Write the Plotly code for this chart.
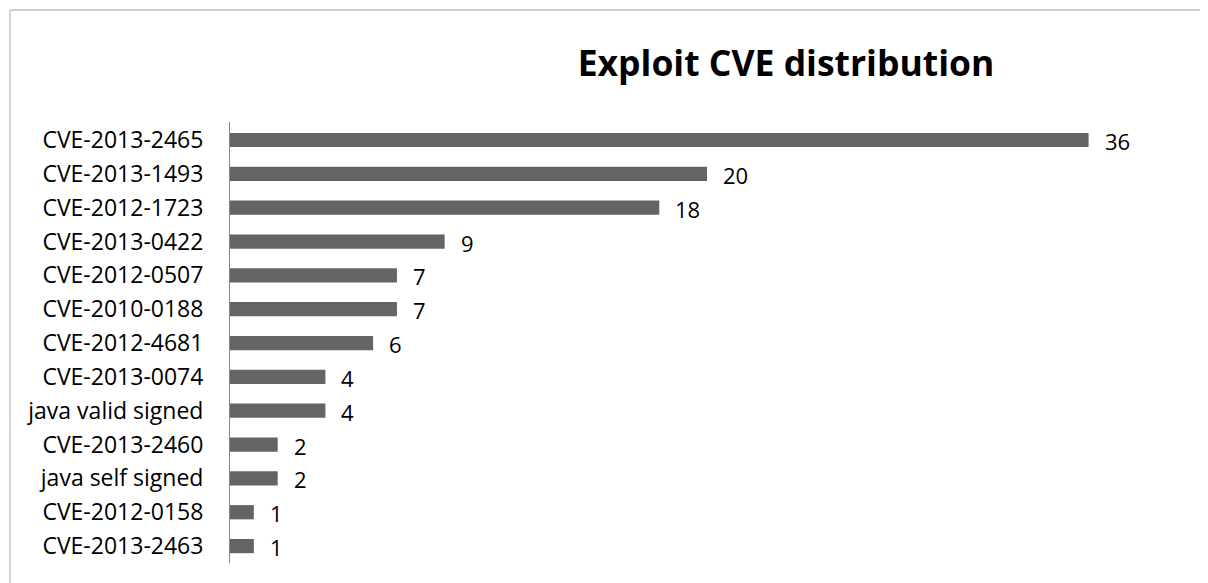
import plotly.graph_objects as go

categories = ["CVE-2013-2465", "CVE-2013-1493", "CVE-2012-1723", "CVE-2013-0422",
              "CVE-2012-0507", "CVE-2010-0188", "CVE-2012-4681", "CVE-2013-0074",
              "java valid signed", "CVE-2013-2460", "java self signed", "CVE-2012-0158",
              "CVE-2013-2463"]
counts = [36, 20, 18, 9, 7, 7, 6, 4, 4, 2, 2, 1, 1]
title_text = "Exploit CVE distribution"

# page has an 8px body margin; figure sized to fit inside the window
OFF = 8
W, H = 1208 - 2 * OFF, 583 - OFF
L, T = 230 - OFF, 122 - OFF
pw, ph = 954, 441
R, B = W - L - pw, H - T - ph

fig = go.Figure(go.Bar(
    x=counts, y=categories, orientation="h",
    marker=dict(color="#646464", line=dict(width=0)),
    width=0.42, hoverinfo="x+y",
))

for c, v in zip(categories, counts):
    fig.add_annotation(x=v, y=c, xref="x", yref="y", text=str(v), showarrow=False,
                       xanchor="left", yanchor="middle", xshift=14, yshift=-1,
                       font=dict(family="Open Sans", size=22, color="#000000"))

# chart border: only the top and left edges fall inside the window
bx0 = (10 - OFF - L) / pw
by1 = 1 + (T - (10 - OFF)) / ph
bx1 = (W - L) / pw
by0 = -B / ph
border = dict(color="#bfbfbf", width=1.3)
fig.add_shape(type="line", xref="paper", yref="paper", x0=bx0, x1=bx1, y0=by1, y1=by1,
              line=border, layer="below")
fig.add_shape(type="line", xref="paper", yref="paper", x0=bx0, x1=bx0, y0=by0, y1=by1,
              line=border, layer="below")

fig.update_layout(
    width=W, height=H,
    margin=dict(l=L, r=R, t=T, b=B, pad=0),
    paper_bgcolor="white", plot_bgcolor="white",
    showlegend=False,
    title=dict(text="<b>" + title_text + "</b>", x=(786 - OFF) / W, xanchor="center",
               y=1 - (64 - OFF) / H, yanchor="middle",
               font=dict(family="Open Sans", size=35.5, color="#000000")),
    xaxis=dict(range=[0, 40], visible=False, fixedrange=True),
    yaxis=dict(autorange="reversed", showline=True, linecolor="#868686", linewidth=1,
               ticks="", showgrid=False, zeroline=False, ticklabelstandoff=21,
               tickfont=dict(family="Open Sans", size=23, color="#000000"), fixedrange=True),
)

fig.write_html("out.html")
